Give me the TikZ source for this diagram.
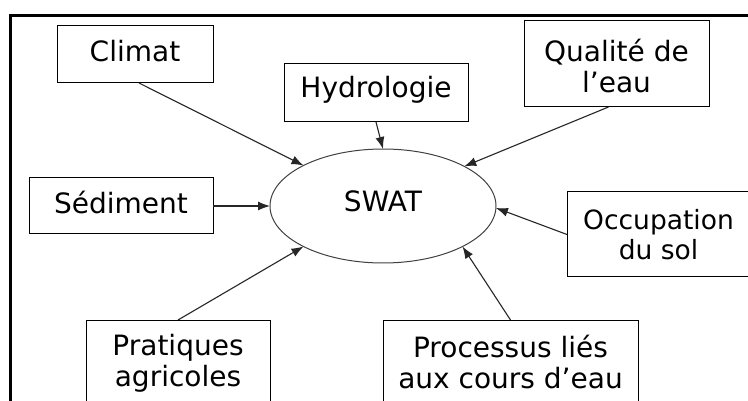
\documentclass[tikz,border=0pt]{standalone}
\usepackage{fontspec}
\setmainfont{DejaVu Sans}
\usetikzlibrary{arrows.meta,shapes.geometric}
\begin{document}
\begin{tikzpicture}[x=1pt,y=-1pt,
  every node/.style={font=\fontsize{28}{31}\selectfont, inner sep=0pt, outer sep=0pt, text depth=6.7pt},
  box/.style={draw=black, line width=1pt, rectangle, align=center},
  oval/.style={draw=black!75, line width=1pt, ellipse},
  conn/.style={draw=black!85, line width=1.1pt, -{Latex[length=12pt,width=9pt]}},
  frame/.style={draw=black, line width=2.7pt}
]
\useasboundingbox (0,0) rectangle (748,401);
\clip (0,0) rectangle (748,401);
\fill[white] (0,0) rectangle (748,401);
% outer frame (left and top)
\coordinate (fa) at (10.5,410);
\coordinate (fb) at (10.5,15.3);
\coordinate (fc) at (760,15.3);
\draw[frame] (fa) -- (fb) -- (fc);
% central ellipse
\node[oval, minimum width=226pt, minimum height=114pt, text height=18.7pt] (swat) at (383,206) {SWAT};
% boxes
\node[box, minimum width=156pt, minimum height=57pt, text height=21.7pt] (climat) at (135,54.5) {Climat};
\node[box, minimum width=184pt, minimum height=58pt, text height=16.7pt] (hydro) at (376,93) {Hydrologie};
\node[box, minimum width=185pt, minimum height=86pt, text height=64.7pt] (qual) at (616.5,64) {Qualité de\\l’eau};
\node[box, minimum width=184pt, minimum height=56pt, text height=21.3pt] (sed) at (121,206) {Sédiment};
\node[box, minimum width=183pt, minimum height=85pt, text height=57.7pt, font=\fontsize{26.5}{30}\selectfont] (occ) at (658.5,234.5) {Occupation\\du sol};
\node[box, minimum width=184pt, minimum height=100pt, text height=38.7pt] (prat) at (178,370) {Pratiques\\agricoles};
\node[box, minimum width=255pt, minimum height=100pt, text height=42.7pt] (proc) at (510.5,370) {Processus liés\\aux cours d’eau};
% connectors
\draw[conn] ([xshift=4pt]climat.south) -- (swat.153);
\draw[conn] (hydro.south) -- (swat.north);
\draw[conn] ([xshift=-8pt]qual.south) -- (swat.26);
\draw[conn] (sed.east) -- (swat.west);
\draw[conn] (occ.west) -- (swat.-1);
\draw[conn] (prat.north) -- (swat.207);
\draw[conn] (proc.north) -- (swat.333);
\end{tikzpicture}
\end{document}
